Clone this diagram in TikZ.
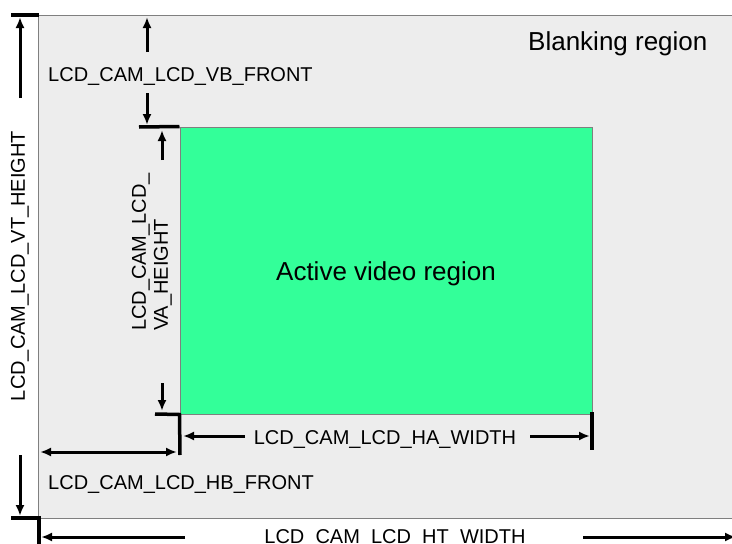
\documentclass[tikz,border=0pt]{standalone}
\usepackage{fontspec}
\setmainfont{Liberation Sans}
\usepackage{tikz}
\usetikzlibrary{arrows.meta,positioning}

\definecolor{blankgray}{HTML}{EDEDED}
\definecolor{activegreen}{HTML}{33FF99}
\definecolor{edgegray}{HTML}{7F7F7F}

\begin{document}
\begin{tikzpicture}[
    x=1pt, y=-1pt,
    dim/.style={line width=3pt, -{Latex[length=11pt,width=9pt]}},
    dimboth/.style={line width=3pt, {Latex[length=11pt,width=9pt]}-{Latex[length=11pt,width=9pt]}},
    tick/.style={line width=3.5pt},
    label/.style={inner sep=0pt, font=\fontsize{20}{22}\selectfont},
    region/.style={inner sep=0pt, font=\fontsize{26}{28}\selectfont}
]
    \clip (0,0) rectangle (732,544);
    \fill[white] (0,0) rectangle (732,544);

    % Blanking region
    \fill[blankgray] (38,15) rectangle (740,518);
    \draw[edgegray, line width=1pt] (740,15) -- (38,15) -- (38,518) -- (740,518);
    \node[region, anchor=base west] (blanking) at (528,50) {Blanking region};

    % Active region
    \node[draw=edgegray, line width=1pt, fill=activegreen, minimum width=412pt, minimum height=287pt]
        (active) at (386,270.5) {};
    \node[region, anchor=base] (active_label) at (386,280) {Active video region};

    % VT height
    \coordinate (vt_top) at (20,17);
    \coordinate (vt_bot) at (20,516);
    \coordinate (vt_up) at (20,98);
    \coordinate (vt_dn) at (20,455);
    \node[label, rotate=90] (vt_label) at (20,266) {LCD\_CAM\_LCD\_VT\_HEIGHT};
    \draw[tick] (11,15) -- (39,15);
    \draw[tick] (11,518) -- (39,518) -- (39,544);
    \draw[dim] (vt_up) -- (vt_top);
    \draw[dim] (vt_dn) -- (vt_bot);

    % VB front
    \coordinate (vb_top) at (147,17);
    \coordinate (vb_bot) at (147,125);
    \coordinate (vb_up) at (147,52);
    \coordinate (vb_dn) at (147,93);
    \node[label, anchor=base west] (vb_label) at (48,81) {LCD\_CAM\_LCD\_VB\_FRONT};
    \draw[dim] (vb_up) -- (vb_top);
    \draw[dim] (vb_dn) -- (vb_bot);
    \draw[tick] (139,127) -- (active.north west);

    % VA height
    \coordinate (va_top) at (162,130);
    \coordinate (va_bot) at (162,411);
    \coordinate (va_up) at (162,160);
    \coordinate (va_dn) at (162,383);
    \node[label, rotate=90, align=left] (va_label) at (152,252)
        {LCD\_CAM\_LCD\_\\VA\_HEIGHT};
    \draw[dim] (va_up) -- (va_top);
    \draw[dim] (va_dn) -- (va_bot);
    \draw[tick] (155,414) -- (active.south west) -- (180,455);

    % HA width
    \coordinate (ha_left) at (183,436);
    \coordinate (ha_right) at (590,436);
    \coordinate (ha_l) at (245,436);
    \coordinate (ha_r) at (530,436);
    \node[label, anchor=base] (ha_label) at (385,444) {LCD\_CAM\_LCD\_HA\_WIDTH};
    \draw[dim] (ha_l) -- (ha_left);
    \draw[dim] (ha_r) -- (ha_right);
    \draw[tick] (592,412) -- (592,450);

    % HB front
    \coordinate (hb_left) at (40,452);
    \coordinate (hb_right) at (177,452);
    \node[label, anchor=base west] (hb_label) at (48,489) {LCD\_CAM\_LCD\_HB\_FRONT};
    \draw[dimboth] (hb_left) -- (hb_right);

    % HT width
    \coordinate (ht_left) at (41,537);
    \coordinate (ht_right) at (736,537);
    \coordinate (ht_l) at (185,537);
    \coordinate (ht_r) at (583,537);
    \node[label, anchor=base] (ht_label) at (395,543) {LCD\_CAM\_LCD\_HT\_WIDTH};
    \draw[dim] (ht_l) -- (ht_left);
    \draw[dim] (ht_r) -- (ht_right);
\end{tikzpicture}
\end{document}
